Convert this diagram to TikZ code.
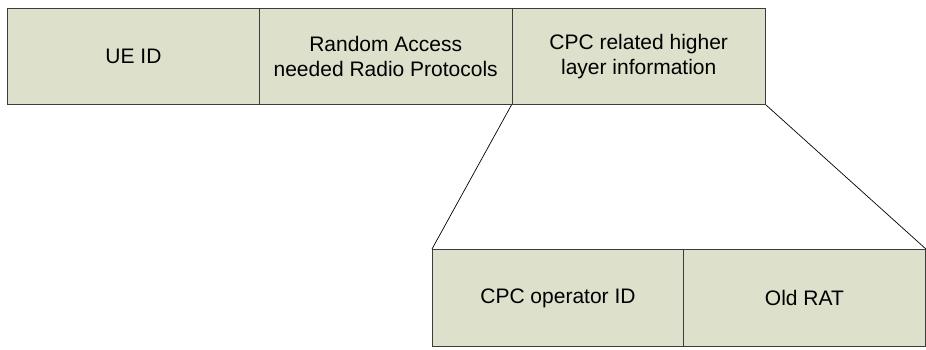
\documentclass[tikz,border=0pt]{standalone}
\usepackage{fontspec}
\setmainfont{Liberation Sans}
\definecolor{boxfill}{RGB}{221,224,203}
\definecolor{boxline}{RGB}{60,60,60}
\tikzset{
  field/.style={draw=boxline, fill=boxfill, line width=0.9pt, minimum height=96pt, inner sep=0pt, align=center, font=\fontsize{21}{25}\selectfont, anchor=north west},
  fan/.style={draw=black, line width=0.7pt}
}
\begin{document}
\begin{tikzpicture}[x=1pt,y=-1pt]
\useasboundingbox (0,0) rectangle (926,350);
\node[field, minimum width=252pt] (ue) at (7,8) {UE ID};
\node[field, minimum width=252.5pt] (ra) at (259,8) {Random Access\\needed Radio Protocols};
\node[field, minimum width=253.5pt] (cpc) at (511.5,8) {CPC related higher\\layer information};
\node[field, minimum width=251pt, minimum height=97pt] (op) at (432,249) {CPC operator ID};
\node[field, minimum width=242pt, minimum height=97pt] (rat) at (683,249) {Old RAT};
\draw[fan] (cpc.south west) -- (op.north west);
\draw[fan] (cpc.south east) -- (rat.north east);
\end{tikzpicture}
\end{document}
